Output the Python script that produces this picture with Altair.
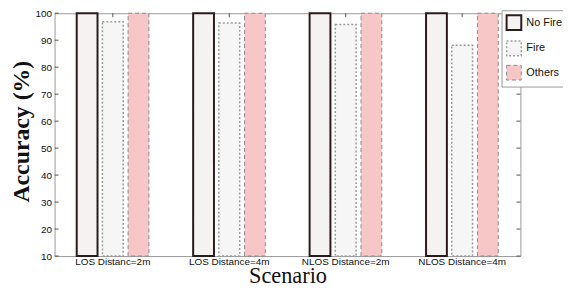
import altair as alt
import pandas as pd

scenarios = ["LOS Distanc=2m", "LOS Distance=4m", "NLOS Distance=2m", "NLOS Distance=4m"]
types = ["No Fire", "Fire", "Others"]
no_fire = [100, 100, 100, 100]
fire = [96.8, 96.4, 95.8, 88.1]
others = [100, 100, 100, 100]
y_ticks = [10, 20, 30, 40, 50, 60, 70, 80, 90, 100]

fills = ["#f5f3f2", "#f6f6f6", "#f7c6c6"]
strokes = ["#2a1a1a", "#9a9a9a", "#8a8a8a"]
dashes = [[1, 0], [2, 2], [4, 3]]
widths = [2, 1, 1]

rows = []
for i, s in enumerate(scenarios):
    for t, vals in zip(types, [no_fire, fire, others]):
        rows.append({"Scenario": s, "Type": t, "Accuracy": vals[i]})
df = pd.DataFrame(rows)
tick_df = pd.DataFrame({"Accuracy": y_ticks})
cat_df = pd.DataFrame({"Scenario": scenarios})

W, H = 470, 245

xscale = alt.Scale(domain=scenarios, paddingInner=0.38, paddingOuter=0.19)
yscale = alt.Scale(domain=[10, 100], zero=False, nice=False)

x_axis = alt.Axis(title="Scenario", labelAngle=0, labelFont="Liberation Sans",
                  labelFontSize=10, labelColor="#111", labelPadding=1,
                  ticks=False, domain=False, labelOverlap=False,
                  titleFont="Liberation Serif", titleFontSize=22.5,
                  titleFontWeight="normal", titleColor="#111",
                  titleBaseline="alphabetic", titleY=26.5)
y_axis = alt.Axis(title="Accuracy (%)", values=y_ticks, ticks=False, domain=False,
                  grid=False, labelFont="Liberation Sans", labelFontSize=10,
                  labelColor="#111", labelPadding=3, labelOverlap=False,
                  titleFont="Liberation Serif", titleFontSize=24,
                  titleFontWeight=600, titleColor="#111",
                  titleBaseline="alphabetic", titleX=-26, titleY=119,
                  titleAlign="center")

bars = alt.Chart(df).mark_bar().encode(
    x=alt.X("Scenario:N", sort=scenarios, scale=xscale, axis=x_axis),
    xOffset=alt.XOffset("Type:N", sort=types,
                        scale=alt.Scale(domain=types, paddingInner=0.19, paddingOuter=0)),
    y=alt.Y("Accuracy:Q", scale=yscale, axis=y_axis),
    y2=alt.datum(10),
    fill=alt.Fill("Type:N", sort=types, scale=alt.Scale(domain=types, range=fills), title=None),
    stroke=alt.Stroke("Type:N", sort=types, scale=alt.Scale(domain=types, range=strokes), title=None),
    strokeDash=alt.StrokeDash("Type:N", sort=types, scale=alt.Scale(domain=types, range=dashes), title=None),
    strokeWidth=alt.StrokeWidth("Type:N", sort=types, scale=alt.Scale(domain=types, range=widths), title=None),
)

left_ticks = alt.Chart(tick_df).mark_rule(color="#555", strokeWidth=1).encode(
    y=alt.Y("Accuracy:Q", scale=yscale, axis=y_axis), x=alt.value(0), x2=alt.value(4))
right_ticks = alt.Chart(tick_df).mark_rule(color="#555", strokeWidth=1).encode(
    y=alt.Y("Accuracy:Q", scale=yscale, axis=y_axis), x=alt.value(W - 4), x2=alt.value(W))
top_ticks = alt.Chart(cat_df).mark_rule(color="#555", strokeWidth=1).encode(
    x=alt.X("Scenario:N", sort=scenarios, scale=xscale, axis=x_axis), y=alt.value(0), y2=alt.value(4))

chart = alt.layer(bars, left_ticks, right_ticks, top_ticks).properties(
    width=W, height=H,
    autosize=alt.AutoSizeParams(type="none"),
    padding={"left": 47, "top": 4, "right": 43, "bottom": 34},
).configure_view(
    stroke="#9a9a9a", strokeWidth=1
).configure_legend(
    orient="none", legendX=451, legendY=-3, fillColor="white", strokeColor="#9a9a9a",
    padding=4, labelFont="Liberation Sans", labelFontSize=11, labelColor="#111",
    symbolType="square", symbolSize=220, rowPadding=4, labelOffset=4,
)

chart.save("out.html", embed_options={"renderer": "svg", "actions": False})
